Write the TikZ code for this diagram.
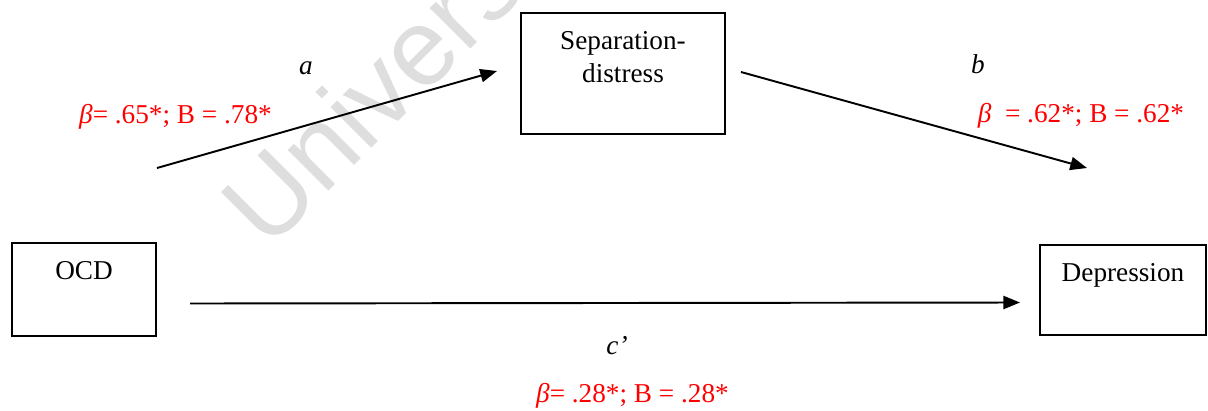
\documentclass[tikz,border=0pt]{standalone}
\usepackage{fontspec}
\setmainfont{Liberation Serif}
\newfontfamily\wmfont{Liberation Sans}
\usetikzlibrary{arrows.meta}

\begin{document}
\begin{tikzpicture}[x=0.02cm, y=-0.02cm, font=\fontsize{15.5}{18.7}\selectfont]
    \tikzset{
        varbox/.style={rectangle, draw=black, line width=1.1pt, inner sep=0pt},
        boxtext/.style={anchor=north, inner sep=0pt, align=center, yshift=-0.38cm},
        effect/.style={line width=1.1pt, -{Triangle[length=9.5pt, width=7.5pt]}},
        pathname/.style={anchor=base, inner sep=0pt, font=\fontsize{15.5}{18.7}\selectfont\itshape},
        coef/.style={anchor=base, inner sep=0pt, text=red},
        wmark/.style={anchor=base west, inner sep=0pt, rotate=45, text=black!13,
            font=\wmfont\fontsize{62}{62}\selectfont}
    }
    \useasboundingbox (0,0) rectangle (1208,410);
    % watermark
    \begin{scope}
        \clip (0,0) rectangle (1208,410);
        \node[wmark] (wm) at (268,252) {University of Cape Town};
    \end{scope}
    % variables
    \node[varbox, minimum width=2.88cm, minimum height=1.86cm] (ocd) at (84,289.5) {};
    \node[varbox, minimum width=4.08cm, minimum height=2.42cm] (sep) at (623,73.5) {};
    \node[varbox, minimum width=3.32cm, minimum height=1.8cm] (dep) at (1123,290) {};
    \node[boxtext] (ocdtext) at (ocd.north) {OCD};
    \node[boxtext] (septext) at (sep.north) {Separation-\\distress};
    \node[boxtext] (deptext) at (dep.north) {Depression};
    % paths
    \coordinate (a0) at (157,168);
    \coordinate (a1) at (497,71);
    \coordinate (b0) at (741,72);
    \coordinate (b1) at (1087,168);
    \coordinate (c0) at (190,303.5);
    \coordinate (c1) at (1020,302.5);
    \draw[effect] (a0) -- (a1);
    \draw[effect] (b0) -- (b1);
    \draw[effect] (c0) -- (c1);
    % labels
    \node[pathname] (alab) at (306,74) {a};
    \node[pathname] (blab) at (978,73) {b};
    \node[pathname] (clab) at (617,354) {c’};
    \node[coef] (acoef) at (175.5,123) {\textit{β}= .65*; B = .78*};
    \node[coef] (bcoef) at (1081,122) {\textit{β}\ \ = .62*; B = .62*};
    \node[coef] (ccoef) at (632.5,402) {\textit{β}= .28*; B = .28*};
\end{tikzpicture}
\end{document}
